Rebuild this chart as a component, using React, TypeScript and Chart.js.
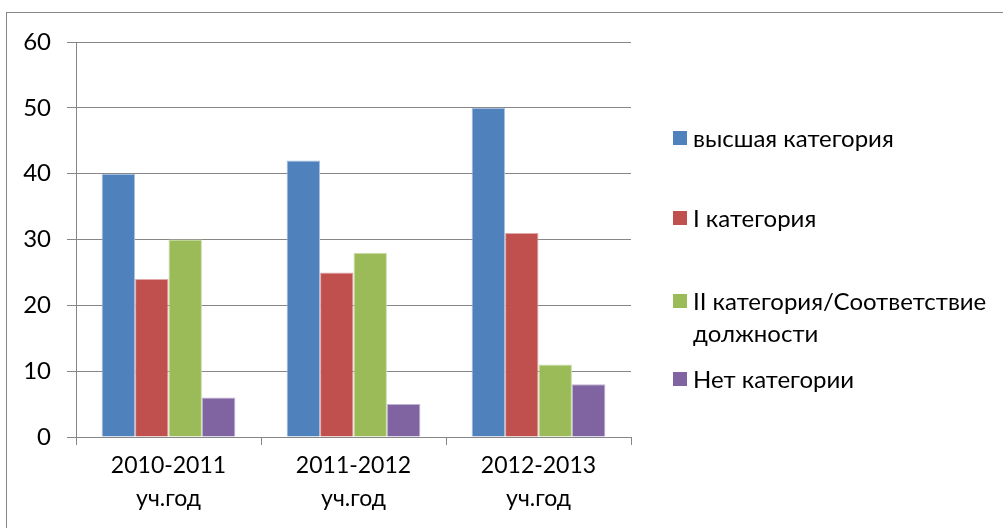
import React, { useEffect, useRef } from "react";
import { Chart, registerables } from "chart.js";

Chart.register(...registerables);

const categories: string[][] = [
  ["2010-2011", "уч.год"],
  ["2011-2012", "уч.год"],
  ["2012-2013", "уч.год"],
];
const seriesNames: string[] = [
  "высшая категория",
  "I категория",
  "II категория/Соответствие должности",
  "Нет категории",
];
const highest: number[] = [40, 42, 50];
const first: number[] = [24, 25, 31];
const second: number[] = [30, 28, 11];
const none: number[] = [6, 5, 8];
const colors: string[] = ["#4F81BD", "#C0504D", "#9BBB59", "#8064A2"];
const borderColors: string[] = ["#A7C0DE", "#E0A9A7", "#CDDDAD", "#C0B2D1"];
const yTicks: number[] = [0, 10, 20, 30, 40, 50, 60];

const FONT = "Lato, 'Open Sans', sans-serif";
const GRID = "#868686";

export default function App() {
  const ref = useRef<HTMLCanvasElement | null>(null);

  useEffect(() => {
    document.body.style.margin = "0";
    const ctx = ref.current;
    if (!ctx) return;
    const values = [highest, first, second, none];
    const chart = new Chart(ctx, {
      type: "bar",
      data: {
        labels: categories,
        datasets: values.map((v, i) => ({
          label: seriesNames[i],
          data: v,
          backgroundColor: colors[i],
          borderColor: borderColors[i],
          borderWidth: 1,
          categoryPercentage: 0.723,
          barPercentage: 1,
        })),
      },
      options: {
        responsive: false,
        animation: false,
        devicePixelRatio: 1,
        layout: { padding: { top: 42, right: 372, left: 0, bottom: 0 } },
        plugins: { legend: { display: false }, tooltip: { enabled: false } },
        scales: {
          x: {
            grid: {
              drawOnChartArea: false,
              drawTicks: true,
              tickLength: 8,
              color: GRID,
              offset: true,
            },
            border: { display: true, color: GRID, width: 1 },
            ticks: {
              color: "#000",
              font: { family: FONT, size: 23, lineHeight: 1.45 },
              padding: 4,
              maxRotation: 0,
              autoSkip: false,
            },
            afterFit: (s: any) => {
              s.height = 91;
            },
          },
          y: {
            min: 0,
            max: 60,
            afterBuildTicks: (s: any) => {
              s.ticks = yTicks.map((v) => ({ value: v }));
            },
            grid: { color: GRID, tickLength: 9, drawTicks: true },
            border: { display: true, color: GRID, width: 1 },
            ticks: {
              color: "#000",
              font: { family: FONT, size: 24 },
              padding: 16,
            },
            afterFit: (s: any) => {
              s.width = 76;
            },
          },
        },
      },
    });
    return () => chart.destroy();
  }, []);

  const legendItems = [
    { top: 138, lines: ["высшая категория"] },
    { top: 218, lines: ["I категория"] },
    { top: 301, lines: ["II категория/Соответствие", "должности"] },
    { top: 379, lines: ["Нет категории"] },
  ];

  return (
    <div style={{ position: "absolute", left: 0, top: 0, width: 1003, height: 528, overflow: "hidden", background: "#fff" }}>
      <div
        style={{
          position: "absolute",
          left: 6,
          top: 12,
          width: 1100,
          height: 600,
          borderLeft: `1px solid ${GRID}`,
          borderTop: `1px solid ${GRID}`,
        }}
      />
      <canvas ref={ref} width={1003} height={528} style={{ position: "absolute", left: 0, top: 0 }} />
      {legendItems.map((it, i) => (
        <div key={i}>
          <div
            style={{
              position: "absolute",
              left: 673,
              top: it.top - 7,
              width: 14,
              height: 14,
              background: colors[i],
            }}
          />
          <div
            style={{
              position: "absolute",
              left: 693,
              top: it.top - 16,
              fontFamily: FONT,
              fontSize: 24,
              lineHeight: "32px",
              color: "#000",
              whiteSpace: "nowrap",
            }}
          >
            {it.lines.map((l, j) => (
              <div key={j}>{l}</div>
            ))}
          </div>
        </div>
      ))}
    </div>
  );
}
